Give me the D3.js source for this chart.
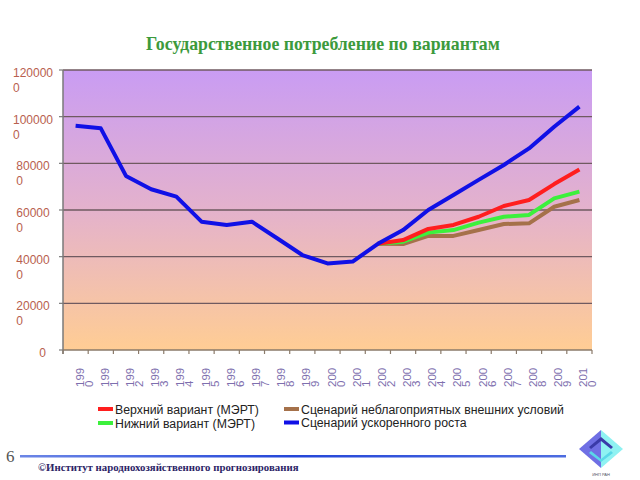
<!DOCTYPE html>
<html>
<head>
<meta charset="utf-8">
<script src="https://cdn.jsdelivr.net/npm/d3@7"></script>
<style>
  body { margin: 0; background: #fff; }
  svg { display: block; }
</style>
</head>
<body>
<script>
const years = ["1990","1991","1992","1993","1994","1995","1996","1997","1998","1999","2000",
               "2001","2002","2003","2004","2005","2006","2007","2008","2009","2010"];
const fast  = [961000, 950000, 746000, 689000, 657000, 550000, 536000, 550000, 479000, 407000, 371000,
               379000, 455000, 514000, 600000, 664000, 729000, 793000, 864000, 957000, 1043000];
const upper = [null,null,null,null,null,null,null,null,null,null,null,
               null, 455000, 471000, 519000, 536000, 571000, 617000, 643000, 711000, 774000];
const lower = [null,null,null,null,null,null,null,null,null,null,null,
               null, 455000, 464000, 503000, 514000, 546000, 571000, 579000, 650000, 679000];
const adverse = [null,null,null,null,null,null,null,null,null,null,null,
               null, 455000, 454000, 489000, 489000, 514000, 540000, 543000, 614000, 643000];
const yTicks = [0, 200000, 400000, 600000, 800000, 1000000, 1200000];

const series = [
  {name: "Сценарий неблагоприятных внешних условий", values: adverse, color: "#a5714a"},
  {name: "Нижний вариант (МЭРТ)", values: lower, color: "#3cf03c"},
  {name: "Верхний вариант (МЭРТ)", values: upper, color: "#ff1e1e"},
  {name: "Сценарий ускоренного роста", values: fast, color: "#1010e6"}
];

const width = 640, height = 480;
const margin = ({top: 70, right: 48, bottom: 130, left: 63});

const svg = d3.select("body").append("svg")
    .attr("width", width)
    .attr("height", height);

const x = d3.scaleBand()
    .domain(years)
    .range([margin.left, width - margin.right]);
const y = d3.scaleLinear([0, 1200000], [height - margin.bottom, margin.top]);

const defs = svg.append("defs");
const grad = defs.append("linearGradient")
    .attr("id", "bg").attr("x1", 0).attr("y1", 0).attr("x2", 0).attr("y2", 1);
grad.append("stop").attr("offset", "0%").attr("stop-color", "#c99cf3");
grad.append("stop").attr("offset", "50%").attr("stop-color", "#e4b2cc");
grad.append("stop").attr("offset", "100%").attr("stop-color", "#ffcd94");

// plot area
svg.append("rect")
    .attr("x", x.range()[0]).attr("y", y(1200000))
    .attr("width", x.range()[1] - x.range()[0])
    .attr("height", y(0) - y(1200000))
    .attr("fill", "url(#bg)");

// gridlines
svg.append("g")
  .selectAll("line")
  .data(yTicks.slice(1))
  .join("line")
    .attr("x1", x.range()[0]).attr("x2", x.range()[1])
    .attr("y1", d => y(d)).attr("y2", d => y(d))
    .attr("stroke", "#6f5a60").attr("stroke-width", 1.3);

// axes lines
svg.append("line")
    .attr("x1", x.range()[0]).attr("x2", x.range()[0])
    .attr("y1", y(1200000)).attr("y2", y(0) + 4)
    .attr("stroke", "#7a7a7a").attr("stroke-width", 1.5);
svg.append("line")
    .attr("x1", x.range()[0]).attr("x2", x.range()[1])
    .attr("y1", y(0)).attr("y2", y(0))
    .attr("stroke", "#8a7a6a").attr("stroke-width", 1.5);

// y ticks + labels (wrapped: last digit drops to a second line)
const yAxis = svg.append("g")
    .style("font", "12px 'Liberation Sans', Arial, sans-serif")
    .attr("fill", "#b8604e");
yAxis.selectAll("line")
  .data(yTicks)
  .join("line")
    .attr("x1", x.range()[0] - 4).attr("x2", x.range()[0])
    .attr("y1", d => y(d)).attr("y2", d => y(d))
    .attr("stroke", "#7a7a7a").attr("stroke-width", 1.2);
yAxis.selectAll("text")
  .data(yTicks)
  .join("text")
    .each(function(d) {
      const s = String(d);
      const t = d3.select(this);
      if (s.length === 1) {
        t.attr("text-anchor", "end").attr("x", 46).attr("y", y(d) + 7).text(s);
        return;
      }
      const l1 = t.append("tspan").attr("y", y(d) + 7).text(s.slice(0, -1));
      const w = l1.node().getComputedTextLength();
      const x0 = 33 - w / 2;
      l1.attr("x", x0);
      t.append("tspan").attr("x", x0).attr("y", y(d) + 22).text(s.slice(-1));
    });

// x ticks + rotated labels
const xAxis = svg.append("g");
xAxis.selectAll("line")
  .data(years.concat(["end"]))
  .join("line")
    .attr("x1", (d, i) => x.range()[0] + i * x.step())
    .attr("x2", (d, i) => x.range()[0] + i * x.step())
    .attr("y1", y(0)).attr("y2", y(0) + 4)
    .attr("stroke", "#8a7a6a").attr("stroke-width", 1.2);
xAxis.selectAll("text")
  .data(years)
  .join("text")
    .attr("transform", d => `translate(${x(d) + x.bandwidth() / 2 + 8},387) rotate(-90)`)
    .style("font", "11.5px 'Liberation Sans', Arial, sans-serif")
    .attr("fill", "#7e6fae")
    .call(t => t.append("tspan").attr("x", 0).attr("y", 0).text(d => d.slice(0, -1)))
    .call(t => t.append("tspan").attr("x", 0).attr("y", 9).text(d => d.slice(-1)));

// lines
const line = d3.line()
    .defined(d => d[1] != null)
    .x(d => x(d[0]) + x.bandwidth() / 2)
    .y(d => y(d[1]));

svg.append("g")
    .attr("fill", "none")
    .attr("stroke-width", 4)
    .attr("stroke-linejoin", "round")
  .selectAll("path")
  .data(series)
  .join("path")
    .attr("stroke", d => d.color)
    .attr("d", d => line(years.map((yr, i) => [yr, d.values[i]])));

// title
svg.append("text")
    .attr("x", 323).attr("y", 50)
    .attr("text-anchor", "middle")
    .style("font", "bold 17.8px 'Liberation Serif', 'Times New Roman', serif")
    .attr("fill", "#3c9a3c")
    .text("Государственное потребление по вариантам");

// legend
const legendItems = [
  {s: series[2], x: 98, y: 409},
  {s: series[1], x: 98, y: 423},
  {s: series[0], x: 284, y: 409},
  {s: series[3], x: 284, y: 422.5}
];
const legend = svg.append("g")
    .style("font", "12.3px 'Liberation Sans', Arial, sans-serif")
    .attr("fill", "#222");
legend.selectAll("line")
  .data(legendItems)
  .join("line")
    .attr("x1", d => d.x).attr("x2", d => d.x + 15)
    .attr("y1", d => d.y).attr("y2", d => d.y)
    .attr("stroke", d => d.s.color).attr("stroke-width", 4);
legend.selectAll("text")
  .data(legendItems)
  .join("text")
    .attr("x", d => d.x + 17).attr("y", d => d.y + 4.5)
    .text(d => d.s.name);

// footer
svg.append("text")
    .attr("x", 6).attr("y", 462)
    .style("font", "17px 'Liberation Serif', serif")
    .attr("fill", "#555")
    .text("6");
const fgrad = defs.append("linearGradient").attr("id", "fl");
fgrad.append("stop").attr("offset", "0%").attr("stop-color", "#6c86e6");
fgrad.append("stop").attr("offset", "50%").attr("stop-color", "#2446d8");
fgrad.append("stop").attr("offset", "100%").attr("stop-color", "#4d6ce0");
svg.append("rect")
    .attr("x", 20).attr("y", 455).attr("width", 546).attr("height", 2.5)
    .attr("fill", "url(#fl)");
svg.append("text")
    .attr("x", 38).attr("y", 471)
    .style("font", "bold 10.8px 'Liberation Serif', serif")
    .attr("fill", "#2c2466")
    .text("©Институт народнохозяйственного прогнозирования");

// logo
const logo = svg.append("g").attr("transform", "translate(601,449)");
logo.append("path").attr("d", "M-22,0 L0,-19 L0,19 Z").attr("fill", "#6f6fe4");
logo.append("path").attr("d", "M0,-19 L22,0 L0,19 Z").attr("fill", "#8ff2f2");
logo.append("path").attr("d", "M-12,-2 L0,-12 L12,-2 L10,0 L0,-8 L-10,0 Z").attr("fill", "#3a3aa8");
logo.append("path").attr("d", "M-10,2 L0,10 L10,2 L12,4 L0,13 L-12,4 Z").attr("fill", "#5ad8e8");
logo.append("text")
    .attr("x", 0).attr("y", 27).attr("text-anchor", "middle")
    .style("font", "4px 'Liberation Sans', sans-serif")
    .attr("fill", "#556")
    .text("ИНП РАН");
</script>
</body>
</html>
